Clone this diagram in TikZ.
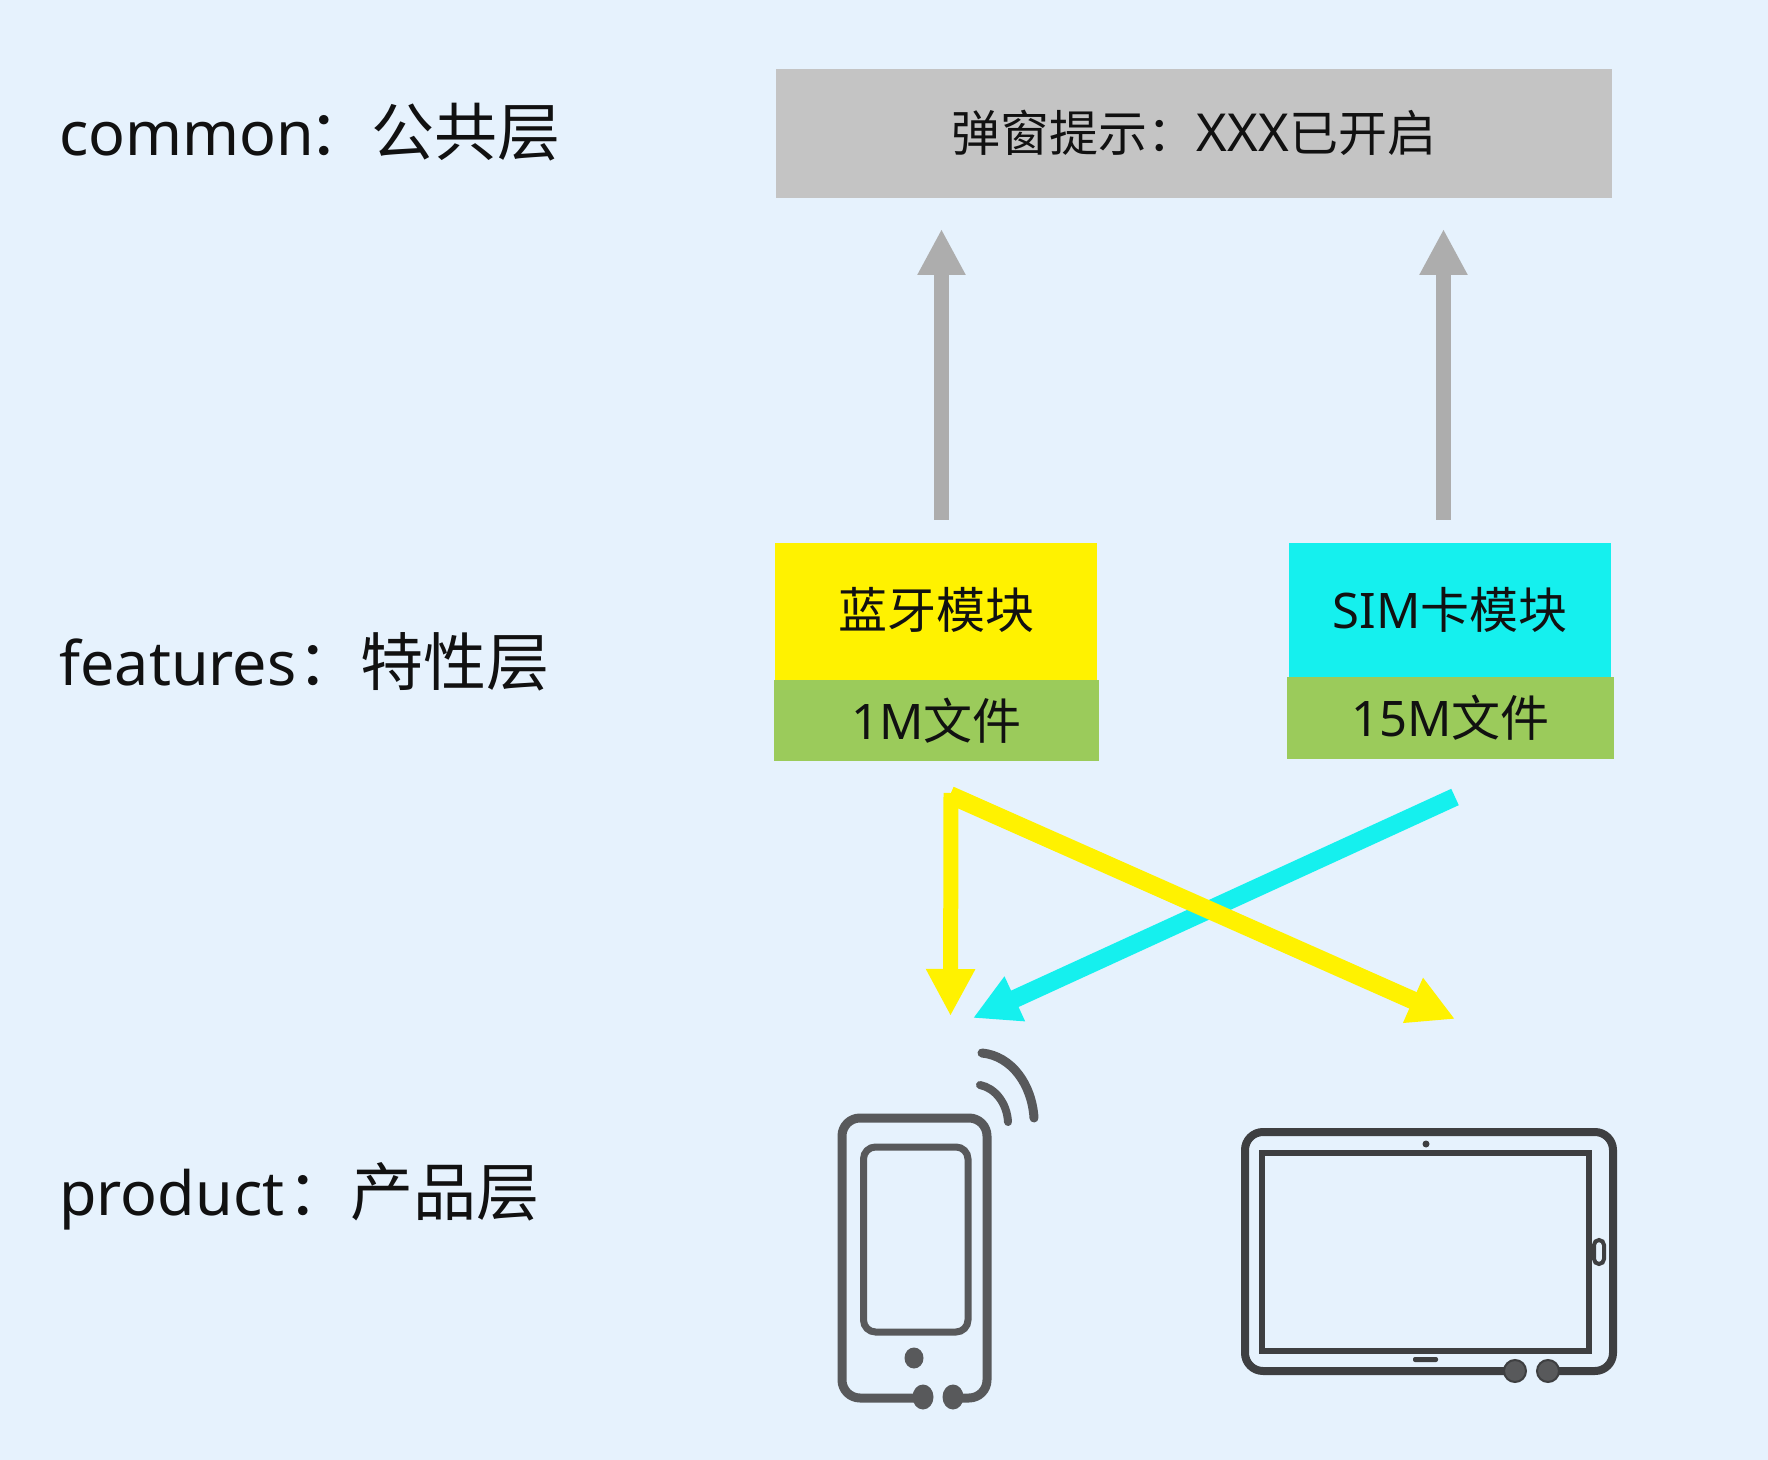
\documentclass[tikz,border=0pt]{standalone}
\usepackage{fontspec}
\setmainfont{Noto Sans}
\newfontfamily\cjk{Noto Sans CJK SC}
\usetikzlibrary{arrows.meta,shapes.geometric}
\definecolor{bgc}{HTML}{E6F2FD}
\definecolor{grayBox}{HTML}{C4C4C4}
\definecolor{grayArrow}{HTML}{ADADAD}
\definecolor{yel}{HTML}{FFF200}
\definecolor{cya}{HTML}{15F0EE}
\definecolor{gre}{HTML}{9BCB5B}
\definecolor{ink}{HTML}{58595B}
\definecolor{inkd}{HTML}{3E3F41}
\definecolor{txt}{HTML}{111111}
\newcommand{\Zh}[1]{{\cjk #1}}
\newcommand{\Zl}[1]{{\cjk\fontsize{31.5pt}{36pt}\selectfont #1}}
\tikzset{
  layerlabel/.style={anchor=base west,inner sep=0pt,text=txt,font=\fontsize{30.5pt}{36pt}\selectfont},
  boxnode/.style={draw=none,inner sep=0pt,text=txt,font=\fontsize{24.5pt}{30pt}\selectfont},
  greyarrow/.style={draw=grayArrow,line width=7.5pt,-{Triangle[width=22.5pt,length=23pt]}},
  yelarrow/.style={draw=yel,line width=7.5pt,-{Triangle[width=23pt,length=23.5pt]}},
  yeldiag/.style={draw=yel,line width=9pt,-{Triangle[width=23pt,length=23pt]}},
  cyaarrow/.style={draw=cya,line width=9pt,-{Triangle[width=23pt,length=23pt]}},
  phoneline/.style={draw=ink,line width=4.5pt,line join=round,rounded corners=9pt},
  padline/.style={draw=inkd,line width=4pt,line join=round,rounded corners=9pt},
  jackdot/.style={ellipse,fill=ink,draw=none,inner sep=0pt,minimum width=10.5pt,minimum height=12.5pt},
  paddot/.style={circle,fill=ink,draw=inkd,line width=1pt,inner sep=0pt,minimum size=11pt}
}
\begin{document}
\begin{tikzpicture}[x=0.5pt,y=-0.5pt]
\fill[bgc] (0,0) rectangle (1768,1460);
\useasboundingbox (0,0) rectangle (1768,1460);
% layer labels
\node[layerlabel] (lcommon) at (59,156) {common\hspace{-2.8pt}\Zl{：公共层}};
\node[layerlabel] (lfeat) at (59,685) {features\hspace{0.5pt}\Zl{：特性层}};
\node[layerlabel] (lprod) at (59,1215) {product\hspace{1.7pt}\Zl{：产品层}};
% boxes
\node[boxnode,fill=grayBox,minimum width=418pt,minimum height=64.5pt] (common) at (1194,133.5) {\raisebox{2.5pt}{\Zh{弹窗提示：}{\fontsize{26.2pt}{30pt}\selectfont XXX}\Zh{已开启}}};
\node[boxnode,fill=yel,minimum width=161pt,minimum height=68.5pt,text height=21.5pt,text depth=5pt] (bt) at (936,611.5) {\Zh{蓝牙模块}};
\node[boxnode,fill=gre,minimum width=162.5pt,minimum height=40.5pt] (f1) at (936.5,720.5) {1M\Zh{文件}};
\node[boxnode,fill=cya,minimum width=161pt,minimum height=66.5pt] (sim) at (1450,610) {SIM\Zh{卡模块}};
\node[boxnode,fill=gre,minimum width=163.5pt,minimum height=41.25pt] (f2) at (1450.5,717.75) {15M\Zh{文件}};
% arrow ends
\coordinate (ga1s) at (941.5,520); \coordinate (ga1e) at (941.5,229);
\coordinate (ga2s) at (1443.5,520); \coordinate (ga2e) at (1443.5,229);
\coordinate (yt) at (951,793); \coordinate (yte) at (950.5,1016);
\coordinate (yds) at (950,795); \coordinate (yde) at (1455,1019);
\coordinate (cs) at (1455,797); \coordinate (ce) at (973,1018);
\draw[greyarrow] (ga1s) -- (ga1e);
\draw[greyarrow] (ga2s) -- (ga2e);
\draw[cyaarrow] (cs) -- (ce);
\draw[yelarrow] (yt) -- (yte);
\draw[yeldiag] (yds) -- (yde);
% phone
\draw[phoneline] (923,1398) -- (842,1398) -- (842,1118) -- (987,1118) -- (987,1398) -- (953,1398);
\draw[draw=ink,line width=3.5pt,rounded corners=6pt] (863.5,1147) rectangle (968,1332);
\node[jackdot] (pd1) at (923,1397) {};
\node[jackdot] (pd2) at (953,1397) {};
\node[ellipse,fill=ink,inner sep=0pt,minimum width=9.5pt,minimum height=10.5pt] (pd3) at (914,1358) {};
\draw[draw=ink,line width=4.5pt,line cap=round] (982,1053) .. controls (1012,1056) and (1032,1085) .. (1034,1118);
\draw[draw=ink,line width=4pt,line cap=round] (980,1085) .. controls (995,1088) and (1007,1103) .. (1008,1122);
% tablet
\draw[padline] (1515,1371) -- (1245,1371) -- (1245,1132) -- (1613,1132) -- (1613,1371) -- (1548,1371);
\draw[draw=inkd,line width=3pt] (1262,1153) rectangle (1589,1351);
\node[paddot] (td1) at (1515,1371) {};
\node[paddot] (td2) at (1548,1371) {};
\node[circle,fill=inkd,inner sep=0pt,minimum size=3.5pt] (tcam) at (1426,1144) {};
\fill[inkd,rounded corners=1pt] (1413,1357) rectangle (1438,1362);
\draw[draw=inkd,line width=2pt,rounded corners=2.5pt] (1594,1240) rectangle (1604,1264);
\end{tikzpicture}
\end{document}
